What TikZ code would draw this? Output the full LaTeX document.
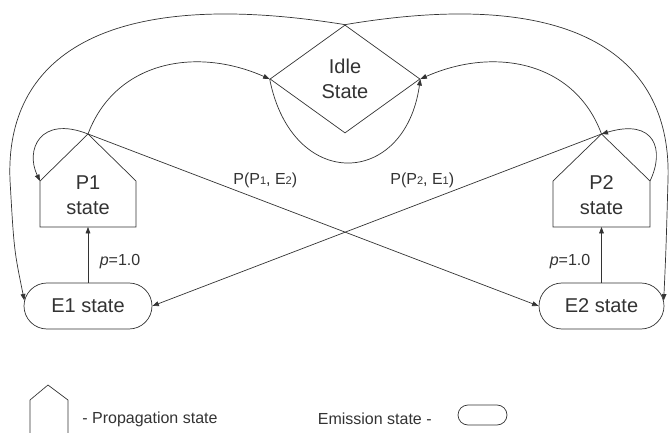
\documentclass[tikz,border=0pt]{standalone}
\usepackage{fontspec}
\setmainfont{Liberation Sans}
\usetikzlibrary{arrows.meta,shapes.geometric,shapes.misc}
\definecolor{ink}{HTML}{333333}
\begin{document}
\begin{tikzpicture}[x=1pt,y=-1pt, line width=0.7pt, color=ink,
  arr/.style={-{Triangle[length=6.5pt,width=4.8pt]}},
  big/.style={font=\fontsize{20}{25}\selectfont, align=center, inner sep=0pt},
  lab/.style={font=\fontsize{16}{18}\selectfont, inner sep=0pt},
  leg/.style={font=\fontsize{16}{19}\selectfont, inner sep=0pt},
  emis/.style={draw, rounded rectangle, minimum width=128pt, minimum height=46pt, inner sep=0pt, font=\fontsize{20}{25}\selectfont},
  ]
\useasboundingbox (0,0) rectangle (670,433);
% Idle state
\node[draw, diamond, aspect=1.39, minimum width=150pt, minimum height=108pt, big] (Idle) at (345,79) {Idle\\State};
% P1 house
\coordinate (P1apex) at (88,134);
\coordinate (P1tl) at (40,181);
\coordinate (P1tr) at (136,181);
\coordinate (P1bl) at (40,227);
\coordinate (P1br) at (136,227);
\coordinate (P1bot) at (88,227);
\draw (P1apex) -- (P1tr) -- (P1br) -- (P1bl) -- (P1tl) -- cycle;
\node[big] (P1txt) at (88,195.5) {P1\\state};
% P2 house
\coordinate (P2apex) at (601.5,134);
\coordinate (P2tl) at (553,181);
\coordinate (P2tr) at (650,181);
\coordinate (P2bl) at (553,227);
\coordinate (P2br) at (650,227);
\coordinate (P2bot) at (601.5,227);
\draw (P2apex) -- (P2tr) -- (P2br) -- (P2bl) -- (P2tl) -- cycle;
\node[big] (P2txt) at (601.5,195.5) {P2\\state};
% emission states
\node[emis] (E1) at (88,306) {E1 state};
\node[emis, minimum width=125pt] (E2) at (601.5,306) {E2 state};
% outer arcs
\draw[arr] (Idle.north) .. controls (100,-15) and (5,60) .. (10,180) .. controls (14,250) .. (E1.175);
\draw[arr] (Idle.north) .. controls (580,-15) and (672,60) .. (668,180) .. controls (666,250) .. (E2.5);
% P -> Idle
\draw[arr] (P1apex) .. controls (115,62) and (195,46) .. (Idle.west);
\draw[arr] (P2apex) .. controls (575,62) and (495,46) .. (Idle.east);
% Idle self loop
\draw[arr] (Idle.west) .. controls (292,192) and (405,188) .. (Idle.east);
% P self loops
\draw[arr] (P1apex) .. controls (40,115) and (25,150) .. (P1tl);
\draw[arr] (P2tr) .. controls (665,150) and (655,118) .. (P2apex);
% cross transitions
\draw[arr] (P1apex) -- (E2.west);
\draw[arr] (P2apex) -- (E1.east);
\node[lab, anchor=base west] (l1) at (233,185) {P(P{\fontsize{11}{11}\selectfont 1}, E{\fontsize{11}{11}\selectfont 2})};
\node[lab, anchor=base west] (l2) at (390,185) {P(P{\fontsize{11}{11}\selectfont 2}, E{\fontsize{11}{11}\selectfont 1})};
% E -> P
\draw[arr] (E1.north) -- (P1bot);
\draw[arr] (E2.north) -- (P2bot);
\node[lab] (l3) at (120,262) {\textit{p}=1.0};
\node[lab] (l4) at (570,262) {\textit{p}=1.0};
% legend
\draw (30,433) -- (30,400) -- (48,385) -- (68,400) -- (68,433);
\node[leg, anchor=west] (lp) at (82,419) {- Propagation state};
\node[leg, anchor=east] (le) at (432,419) {Emission state -};
\node[draw, rounded rectangle, minimum width=49pt, minimum height=20pt, inner sep=0pt] (ls) at (482.5,415) {};
\end{tikzpicture}
\end{document}
